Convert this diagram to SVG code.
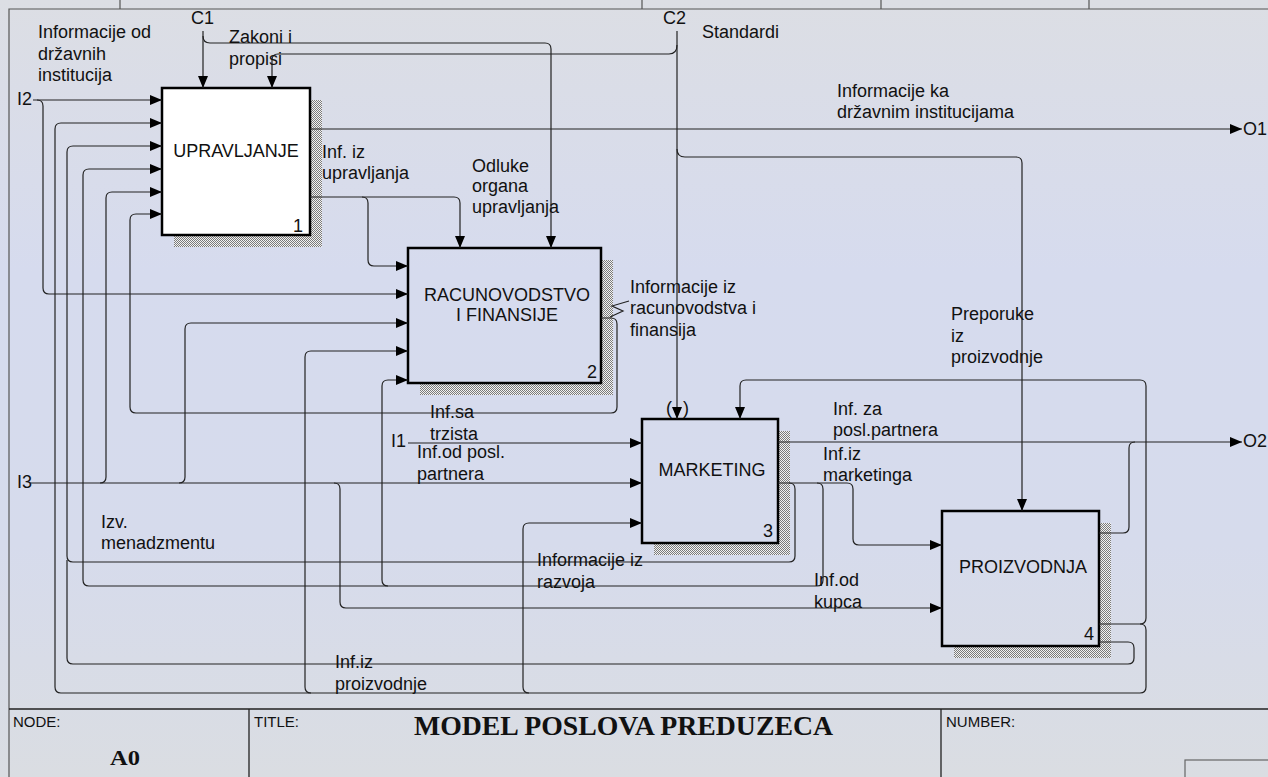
<svg xmlns="http://www.w3.org/2000/svg" width="1268" height="777" viewBox="0 0 1268 777">
  <defs>
    <linearGradient id="bg" x1="0" y1="0" x2="0" y2="1">
      <stop offset="0" stop-color="#dcdee4"/>
      <stop offset="0.35" stop-color="#d6dbee"/>
      <stop offset="0.7" stop-color="#d6dbec"/>
      <stop offset="1" stop-color="#dadde2"/>
    </linearGradient>
    <pattern id="hatch" width="2" height="2" patternUnits="userSpaceOnUse">
      <rect width="2" height="2" fill="#f2f2f2"/>
      <rect x="0" y="0" width="1" height="1" fill="#7a7a7a"/>
      <rect x="1" y="1" width="1" height="1" fill="#7a7a7a"/>
    </pattern>
    <marker id="arr" markerWidth="12" markerHeight="10" refX="12" refY="5" orient="auto" markerUnits="userSpaceOnUse">
      <path d="M0,0 L12,5 L0,10 Z" fill="#000"/>
    </marker>
    <style>
      .ln { fill: none; stroke: #222; stroke-width: 1.2; }
      .ar { marker-end: url(#arr); }
      .box { fill: none; stroke: #000; stroke-width: 2.5; }
      .shd { fill: url(#hatch); }
      .frm { fill: none; stroke: #555; stroke-width: 1.2; }
      text { font-family: "Liberation Sans", Arial, sans-serif; font-size: 18px; fill: #111; }
      .mid { text-anchor: middle; }
      .end { text-anchor: end; }
      .hdr { font-size: 15px; }
      .big { font-family: "Liberation Serif", "Times New Roman", serif; font-weight: bold; }
      .t22 { font-size: 22px; }
      .t27 { font-size: 27px; }
    </style>
  </defs>

  <!-- sheet -->
  <rect width="1268" height="777" fill="url(#bg)"/>
  <g id="frame">
    <path class="frm" d="M9,777 V9 H1268"/>
    <path class="frm" d="M120,0 V9 M642,0 V9 M881,0 V9 M1089,0 V9"/>
    <path d="M9,709 H1268 M249,709 V777 M941,709 V777" fill="none" stroke="#222" stroke-width="1.3"/>
    <rect x="1185" y="760" width="90" height="20" fill="none" stroke="#666" stroke-width="1.2"/>
    <text class="hdr" x="13" y="727">NODE:</text>
    <text class="big t22" x="110" y="765" textLength="30" lengthAdjust="spacingAndGlyphs">A0</text>
    <text class="hdr" x="254" y="727">TITLE:</text>
    <text class="big t27" x="414" y="735" textLength="419" lengthAdjust="spacingAndGlyphs">MODEL POSLOVA PREDUZECA</text>
    <text class="hdr" x="946" y="727">NUMBER:</text>
  </g>

  <!-- activity boxes -->
  <g id="node-1">
    <rect class="shd" x="174" y="100" width="148" height="147"/>
    <rect class="box" x="162" y="88" width="148" height="147" style="fill:#fff"/>
    <text class="mid" x="236" y="157">UPRAVLJANJE</text>
    <text class="end" x="303" y="232">1</text>
  </g>
  <g id="node-2">
    <path class="shd" d="M601,260 H613 V395 H420 V383 H601 Z"/>
    <rect class="box" x="408" y="248" width="193" height="135"/>
    <text class="mid" x="507" y="301">RACUNOVODSTVO</text>
    <text class="mid" x="507" y="321">I FINANSIJE</text>
    <text class="end" x="597" y="378">2</text>
  </g>
  <g id="node-3">
    <path class="shd" d="M778,431 H790 V555 H654 V543 H778 Z"/>
    <rect class="box" x="642" y="419" width="136" height="124"/>
    <text class="mid" x="712" y="476">MARKETING</text>
    <text class="end" x="773" y="537">3</text>
  </g>
  <g id="node-4">
    <path class="shd" d="M1099,523 H1111 V658 H954 V646 H1099 Z"/>
    <rect class="box" x="942" y="511" width="157" height="135"/>
    <text class="mid" x="1023" y="573">PROIZVODNJA</text>
    <text class="end" x="1094" y="640">4</text>
  </g>

  <!-- arrows -->
  <g id="connectors">
    <!-- C1 Zakoni i propisi -->
    <path class="ln ar" d="M203,31 V88"/>
    <path class="ln ar" d="M203,36 Q203,43 210,43 H545 Q551,43 551,49 V248"/>
    <!-- C2 Standardi -->
    <path class="ln ar" d="M677,31 V419"/>
    <path class="ln ar" d="M677,45 Q677,54 669,54 H278 Q272,54 272,60 V88"/>
    <path class="ln ar" d="M677,149 Q677,157 685,157 H1016 Q1022,157 1022,163 V511"/>
    <!-- O1 -->
    <path class="ln ar" d="M310,129 H1242"/>
    <!-- Inf. iz upravljanja / Odluke organa upravljanja -->
    <path class="ln ar" d="M310,197 H454 Q460,197 460,203 V248"/>
    <path class="ln ar" d="M362,197 Q368,197 368,203 V260 Q368,266 374,266 H408"/>
    <!-- I2 -->
    <path class="ln ar" d="M33,100 H162"/>
    <path class="ln ar" d="M37,100 Q43,100 43,106 V288 Q43,294 49,294 H408"/>
    <!-- I3 -->
    <path class="ln ar" d="M30,483 H642"/>
    <path class="ln ar" d="M100,483 Q106,483 106,477 V198 Q106,192 112,192 H162"/>
    <path class="ln ar" d="M179,483 Q185,483 185,477 V329 Q185,323 191,323 H408"/>
    <path class="ln ar" d="M334,483 Q340,483 340,489 V602 Q340,608 346,608 H942"/>
    <!-- I1 -->
    <path class="ln ar" d="M408,443 H642"/>
    <!-- Informacije iz racunovodstva i finansija -->
    <path class="ln ar" d="M601,318 H611 Q617,318 617,324 V407 Q617,413 611,413 H136 Q130,413 130,407 V220 Q130,214 136,214 H162"/>
    <path class="ln" d="M629,301 L612,306 L623,311 L610,317"/>
    <!-- O2: Inf. za posl.partnera -->
    <path class="ln ar" d="M778,442 H1242"/>
    <path class="ln" d="M1099,533 H1123 Q1129,533 1129,527 V448 Q1129,442 1135,442"/>
    <!-- Izv. menadzmentu -->
    <path class="ln ar" d="M778,483 H789 Q795,483 795,489 V556 Q795,562 789,562 H73 Q67,562 67,556 V152 Q67,146 73,146 H162"/>
    <path class="ln" d="M1099,642 H1128 Q1134,642 1134,648 V658 Q1134,664 1128,664 H73 Q67,664 67,658 V560"/>
    <!-- Inf.iz marketinga -->
    <path class="ln ar" d="M789,483 H817 Q823,483 823,489 V580 Q823,586 817,586 H89 Q83,586 83,580 V175 Q83,169 89,169 H162"/>
    <path class="ln ar" d="M388,586 Q382,586 382,580 V386 Q382,380 388,380 H408"/>
    <path class="ln ar" d="M817,483 H847 Q853,483 853,489 V539 Q853,545 859,545 H942"/>
    <!-- Preporuke iz proizvodnje / Inf.iz proizvodnje -->
    <path class="ln ar" d="M1099,624 H1140 Q1146,624 1146,618 V386 Q1146,380 1140,380 H746 Q740,380 740,386 V419"/>
    <path class="ln ar" d="M1140,624 Q1146,624 1146,630 V687 Q1146,693 1140,693 H61 Q55,693 55,687 V129 Q55,123 61,123 H162"/>
    <path class="ln ar" d="M311,693 Q305,693 305,687 V357 Q305,351 311,351 H408"/>
    <path class="ln ar" d="M529,693 Q523,693 523,687 V529 Q523,523 529,523 H642"/>
  </g>

  <!-- arrow labels -->
  <g id="labels">
    <text x="38" y="38">Informacije od</text>
    <text x="38" y="60">državnih</text>
    <text x="38" y="81">institucija</text>
    <text x="191" y="24">C1</text>
    <text x="663" y="24">C2</text>
    <text x="229" y="43">Zakoni i</text>
    <text x="229" y="65">propisi</text>
    <text x="702" y="38">Standardi</text>
    <text x="17" y="105">I2</text>
    <text x="837" y="97">Informacije ka</text>
    <text x="837" y="118">državnim institucijama</text>
    <text x="1243" y="135">O1</text>
    <text x="322" y="158">Inf. iz</text>
    <text x="322" y="179">upravljanja</text>
    <text x="472" y="172">Odluke</text>
    <text x="472" y="192">organa</text>
    <text x="472" y="213">upravljanja</text>
    <text x="630" y="293">Informacije iz</text>
    <text x="630" y="314">racunovodstva i</text>
    <text x="630" y="336">finansija</text>
    <text x="951" y="320">Preporuke</text>
    <text x="951" y="342">iz</text>
    <text x="951" y="363">proizvodnje</text>
    <text x="430" y="418">Inf.sa</text>
    <text x="430" y="440">trzista</text>
    <text x="391" y="447">I1</text>
    <text x="417" y="458">Inf.od posl.</text>
    <text x="417" y="480">partnera</text>
    <text x="666" y="414">(</text>
    <text x="683" y="414">)</text>
    <text x="833" y="415">Inf. za</text>
    <text x="833" y="436">posl.partnera</text>
    <text x="1243" y="447">O2</text>
    <text x="823" y="460">Inf.iz</text>
    <text x="823" y="481">marketinga</text>
    <text x="17" y="488">I3</text>
    <text x="101" y="528">Izv.</text>
    <text x="101" y="549">menadzmentu</text>
    <text x="537" y="566">Informacije iz</text>
    <text x="537" y="588">razvoja</text>
    <text x="814" y="586">Inf.od</text>
    <text x="814" y="608">kupca</text>
    <text x="335" y="668">Inf.iz</text>
    <text x="335" y="690">proizvodnje</text>
  </g>
</svg>
